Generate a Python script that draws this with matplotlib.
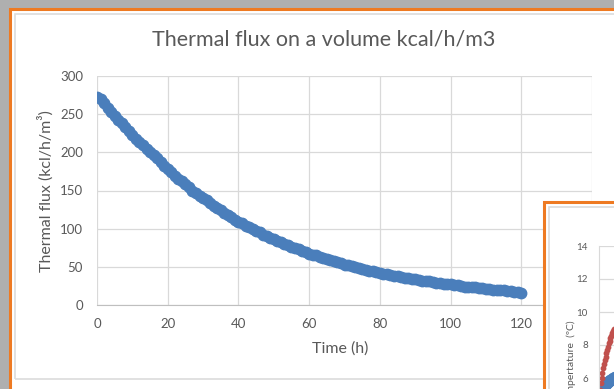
import matplotlib
matplotlib.use('Agg')  # headless
import matplotlib.pyplot as plt
from matplotlib.patches import Rectangle

# main chart: thermal flux per hour
hours = list(range(121))
flux = [272, 270, 265, 258, 253, 248, 243, 238, 233, 228,
        223, 218, 213, 209, 205, 200, 196, 192, 187, 182,
        178, 174, 169, 165, 162, 158, 154, 150, 147, 143,
        140, 137, 133, 130, 127, 124, 121, 118, 115, 112,
        109, 107, 104, 102, 99, 97, 95, 92, 90, 88,
        86, 84, 82, 80, 78, 76, 75, 73, 71, 69,
        67, 66, 65, 63, 62, 60, 59, 57, 56, 55,
        53, 52, 51, 50, 48, 47, 46, 45, 44, 43,
        42, 41, 40, 39, 38, 38, 37, 36, 35, 34,
        34, 33, 32, 31, 31, 30, 29, 29, 28, 27,
        27, 26, 26, 25, 24, 24, 23, 23, 22, 22,
        21, 21, 20, 20, 19, 19, 18, 18, 17, 17, 16]
x_ticks = [0, 20, 40, 60, 80, 100, 120, 140]
y_ticks = [0, 50, 100, 150, 200, 250, 300]

# second chart, mostly hidden off the right edge
temp_ticks = [6, 8, 10, 12, 14]
red_x = [1.0, 1.8, 2.6, 3.4, 4.2, 5.0, 5.8, 6.6, 7.4, 8.2, 9.0, 9.8, 10.6, 11.4, 12.2, 13.0, 13.8, 14.6]
red_t = [5.3, 5.7, 6.0, 6.3, 6.6, 6.85, 7.1, 7.3, 7.5, 7.7, 7.9, 8.1, 8.25, 8.4, 8.55, 8.7, 8.85, 9.0]
blue_x = [1.5, 2.5, 3.5, 4.5, 5.5, 6.5, 7.5, 8.5, 9.5, 10.5, 11.5, 12.5, 13.5, 14.5, 15.5]
blue_t = [5.2, 5.35, 5.45, 5.53, 5.6, 5.66, 5.72, 5.77, 5.82, 5.86, 5.9, 5.94, 5.98, 6.02, 6.06]

W, H = 614, 389
GREY_TXT = '#595959'
ORANGE = '#ee7a22'
plt.rcParams['font.family'] = ['Lato', 'DejaVu Sans']

fig = plt.figure(figsize=(W / 100, H / 100), dpi=100, facecolor='#afafaf')

def fx(x): return x / W
def fy(y): return 1 - y / H

def box(x0, y0, x1, y1, **kw):
    r = Rectangle((fx(x0), fy(y1)), fx(x1) - fx(x0), fy(y0) - fy(y1),
                  transform=fig.transFigure, **kw)
    fig.add_artist(r)

# chart 1 frame
box(9.5, 8.5, 700, 450, facecolor='white', edgecolor=ORANGE, lw=2.2, zorder=-2)
box(15, 14, 700, 379, facecolor='none', edgecolor='#dcdcdc', lw=1.2, zorder=-1)

ax = fig.add_axes([fx(97), fy(305), fx(592) - fx(97), fy(76) - fy(305)])
ax.set_zorder(0)
ax.set_facecolor('none')
ax.plot(hours, flux, 'o', color='#4a7ebb', ms=7.5, mec='#4a7ebb')
ax.set_xlim(0, 140)
ax.set_ylim(0, 300)
ax.set_xticks(x_ticks)
ax.set_yticks(y_ticks)
ax.grid(True, color='#d9d9d9', lw=0.9)
ax.set_axisbelow(True)
for s in ['top', 'right', 'left']:
    ax.spines[s].set_visible(False)
ax.spines['bottom'].set_color('#bfbfbf')
ax.tick_params(length=0, labelcolor=GREY_TXT, labelsize=9.5)
ax.tick_params(axis='y', pad=10)
ax.tick_params(axis='x', pad=9.5)

fig.text(fx(324), fy(40), 'Thermal flux on a volume kcal/h/m3', ha='center', va='center',
         fontsize=15.5, color=GREY_TXT)
fig.text(fx(46), fy(191), 'Thermal flux (kcl/h/m³)', rotation=90, ha='center', va='center',
         fontsize=11.5, color=GREY_TXT)
fig.text(fx(340), fy(349), 'Time (h)', ha='center', va='center', fontsize=11.5, color=GREY_TXT)

# chart 2 frame (overlapping)
box(544, 201.5, 700, 450, facecolor='white', edgecolor=ORANGE, lw=2.2, zorder=1)
box(548.5, 206.5, 700, 450, facecolor='none', edgecolor='#dcdcdc', lw=1.2, zorder=1.1)

ax2 = fig.add_axes([fx(599), fy(477), fx(614) - fx(599), fy(246) - fy(477)])
ax2.set_zorder(2)
ax2.set_facecolor('none')
ax2.plot(blue_x, blue_t, 'o', color='#4a7ebb', ms=7.5)
ax2.plot(red_x, red_t, 'o', color='#c0504d', ms=3.2)
ax2.set_xlim(0, 15)
ax2.set_ylim(0, 14)
ax2.set_yticks(temp_ticks)
ax2.set_xticks([])
ax2.grid(True, axis='y', color='#d9d9d9', lw=0.9)
ax2.set_axisbelow(True)
for s in ['top', 'right', 'bottom']:
    ax2.spines[s].set_visible(False)
ax2.spines['left'].set_color('#d9d9d9')
ax2.tick_params(length=0, labelcolor=GREY_TXT, labelsize=7, pad=8)
t = fig.text(fx(571), fy(320), 'Tempertature  (ºC)', rotation=90, ha='center', va='top',
             fontsize=7.5, color=GREY_TXT)
t.set_zorder(3)

fig.savefig('out.png', dpi=100, facecolor=fig.get_facecolor())
